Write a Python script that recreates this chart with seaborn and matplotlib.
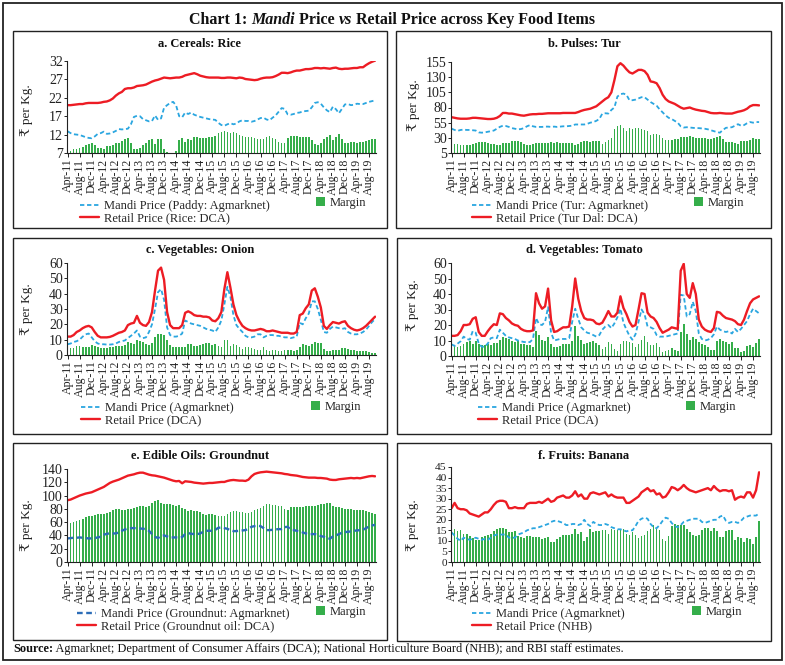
import numpy as np
import pandas as pd
import matplotlib
matplotlib.use("Agg")
import matplotlib.pyplot as plt
import seaborn as sns
from matplotlib.patches import Rectangle

W, H = 785, 665

# ---------------- data ----------------
months = list(pd.date_range("2011-04-01", periods=103, freq="MS").strftime("%b-%y"))
tick_labels = ["Apr-11", "Aug-11", "Dec-11", "Apr-12", "Aug-12", "Dec-12", "Apr-13", "Aug-13",
               "Dec-13", "Apr-14", "Aug-14", "Dec-14", "Apr-15", "Aug-15", "Dec-15", "Apr-16",
               "Aug-16", "Dec-16", "Apr-17", "Aug-17", "Dec-17", "Apr-18", "Aug-18", "Dec-18",
               "Apr-19", "Aug-19"]

rice_retail = [20.0, 20.0, 20.1, 20.2, 20.3, 20.3, 20.5, 20.6, 20.6, 20.6, 20.6, 20.7,
               20.9, 21.0, 21.3, 21.8, 22.6, 23.2, 23.6, 24.4, 24.6, 24.6, 24.8, 25.2,
               25.3, 25.4, 25.6, 26.0, 26.4, 26.7, 26.9, 27.2, 27.5, 27.4, 27.3, 27.4,
               27.5, 27.5, 27.7, 28.1, 28.3, 28.5, 28.7, 28.4, 28.0, 27.8, 27.6, 27.5,
               27.5, 27.5, 27.5, 27.4, 27.4, 27.5, 27.5, 27.4, 27.3, 27.5, 27.4, 27.1,
               27.0, 26.9, 26.8, 26.9, 27.2, 27.4, 27.5, 27.5, 27.6, 27.9, 28.3, 28.8,
               28.8, 28.7, 28.9, 29.2, 29.4, 29.4, 29.6, 29.8, 29.8, 29.9, 30.1, 30.1,
               30.0, 30.1, 30.0, 29.9, 30.1, 30.2, 29.9, 29.8, 29.9, 29.9, 30.0, 30.1,
               30.1, 30.3, 30.3, 30.9, 31.4, 31.8, 32.1]
rice_mandi = [12.9, 12.4, 12.1, 12.0, 11.9, 11.6, 11.3, 11.1, 11.0, 11.5, 12.2, 12.4,
              12.8, 12.2, 12.3, 12.6, 13.0, 13.5, 13.4, 13.5, 13.6, 14.8, 16.8, 17.1,
              17.0, 16.2, 15.9, 15.6, 15.7, 17.2, 16.0, 16.4, 19.3, 20.0, 20.6, 20.9,
              19.9, 17.0, 16.7, 18.0, 17.6, 18.0, 17.4, 17.1, 16.8, 16.6, 16.4, 16.2,
              16.1, 16.0, 15.2, 14.6, 14.4, 14.8, 15.1, 14.8, 15.0, 15.6, 15.9, 15.7,
              15.7, 15.5, 15.7, 16.1, 16.5, 16.6, 16.1, 15.9, 16.6, 17.2, 18.2, 19.2,
              19.0, 17.5, 17.4, 17.6, 17.9, 18.0, 18.3, 18.4, 18.5, 19.4, 20.6, 20.8,
              20.4, 19.4, 18.6, 18.1, 19.6, 18.9, 17.8, 19.0, 20.2, 20.3, 20.0, 20.1,
              20.4, 20.3, 20.3, 20.6, 20.9, 21.1, 21.3]

tur_retail = [64, 63, 62, 61.5, 61.5, 61.5, 62, 63, 63, 62.5, 62, 61.5,
              61, 61, 61.5, 63, 66, 71, 71, 70, 70, 69, 68, 67,
              66.5, 67.5, 68.5, 69, 69, 69.5, 69.5, 70, 70.5, 70.5, 70.5, 70.5,
              70.5, 71, 71, 71, 71, 71, 72.5, 74.5, 76, 77, 78, 80,
              82, 86, 90, 94, 97, 105, 125, 148, 153, 149, 143, 138,
              136, 139, 142, 142, 140, 134, 123, 122, 120, 112, 101, 94,
              90, 88, 86, 83, 80, 78, 79, 80, 78, 76.5, 75.5, 74.5,
              74, 72.5, 71, 70.5, 70.5, 71, 70.5, 70, 70, 70, 71.5, 73,
              74, 75.5, 78, 82, 84, 84, 83.5]
tur_mandi = [45, 43, 41.5, 43, 43.5, 43, 43, 42.5, 42, 39, 38.5, 39,
             40, 41, 42, 45, 48, 50, 49.5, 48, 46, 45, 44, 44.5,
             46, 49, 51, 49, 48, 48, 48, 48.5, 48.5, 48, 48.5, 48,
             48.5, 49, 49, 49.5, 50, 52, 52, 52, 52, 53, 55, 56,
             58, 61, 70, 70.5, 70, 76, 80, 98, 102, 103, 101, 92,
             92, 93, 95, 97, 97, 93, 89, 86, 83, 77, 72, 67,
             63, 61, 58, 55, 49, 47, 47.5, 47, 46.5, 46, 46, 45.5,
             45, 44, 42.5, 41, 39.5, 38.5, 43, 46.5, 47, 47.5, 50, 52.5,
             50, 51, 54, 56, 55, 56, 56]

onion_retail = [12, 12, 13, 15, 16, 17.5, 18.5, 19, 18, 15, 12.5, 11.5,
                11.5, 11.5, 11.8, 12.5, 13.5, 14.5, 15, 16, 19.5, 20.5, 21, 25.5,
                21, 19.5, 19, 21.5, 28, 42, 55, 57, 49, 28, 19.5, 17.5,
                17.5, 17.5, 19.5, 27.5, 28.5, 27.5, 26, 25.5, 25.5, 25, 25, 24.5,
                22.5, 22, 24, 28, 43, 54, 44, 33, 26, 22, 19, 17.5,
                16.5, 16, 16, 16.5, 17, 16.5, 15.5, 15.5, 16, 15.5, 15, 14.5,
                14.5, 14.5, 14, 14, 15, 26, 27, 30.5, 33, 42, 43.5, 38,
                31, 19, 17, 19.5, 21.5, 21, 20.5, 21.5, 22, 19, 17.5, 16.5,
                16, 16.5, 17.5, 19, 21, 23, 25]
onion_mandi = [7, 7.5, 8.5, 9, 10, 12, 13.5, 14, 11.5, 9, 7.5, 7,
               7, 6.8, 6.8, 7, 7.5, 8.5, 9, 9.5, 11, 12.5, 14, 16,
               12, 11, 11.5, 15, 20, 30, 41, 43, 36, 18, 13, 12,
               12, 12.5, 14, 22.5, 21.5, 20.5, 20, 19.5, 19, 18, 17, 16.5,
               16, 15, 18, 22.5, 33, 44.5, 38, 26, 19.5, 17, 15, 12.5,
               11.5, 11.5, 12, 13.5, 13.5, 11.5, 12.5, 13, 13, 12.5, 12.5, 12,
               11.5, 11.5, 11, 11.5, 12, 21, 20, 24, 27, 35, 35, 30,
               23, 15, 14.5, 17, 18.5, 18, 17.5, 17, 17.5, 15, 14, 13.5,
               13.5, 14, 15, 16.5, 19, 21.5, 23.5]

tomato_retail = [13, 13, 13.5, 16, 20, 20, 20.5, 24, 25, 15.5, 13, 13,
                 16, 18.5, 20.5, 20, 27.5, 27, 24.5, 23, 21, 20, 19.5, 17.5,
                 16.5, 16, 16, 16.5, 40.5, 34, 30.5, 32, 43.5, 23, 15.5, 16,
                 17.3, 18.5, 18.5, 19, 32, 50, 37, 29, 24.5, 23.5, 23.5, 23,
                 21, 20.5, 21.5, 25, 29, 25.5, 25.5, 28, 38.5, 31, 27, 22,
                 19, 20, 30, 40.5, 40, 28, 25.5, 24.5, 22, 18, 15, 16,
                 17, 18.5, 18, 17.5, 55, 59.5, 40, 37.5, 47, 40, 23.5, 19,
                 17, 16, 15.5, 18, 28.5, 28, 26, 24.5, 24, 23.5, 22.5, 20.5,
                 20, 23.5, 29, 34, 36.5, 37.5, 38.5]
tomato_mandi = [7.5, 6.5, 8, 9.5, 12.5, 11, 10.5, 16, 15, 8, 6, 6,
                8, 11.5, 12, 11.5, 17, 15, 13, 12, 11.5, 11, 10, 9.5,
                9, 9, 9, 11, 24.5, 20.5, 20, 22, 31.5, 15, 10, 10.5,
                11, 11, 11, 11.5, 22, 30.5, 24, 18.5, 16.5, 15, 14.5, 13.5,
                12.5, 13.5, 17, 19, 20, 18, 21, 25, 30.5, 21.5, 17, 13,
                10.5, 14, 22, 30, 27, 19, 18.5, 17.5, 13.5, 12.5, 12.5, 12.5,
                13, 13.5, 14, 14.5, 39.5, 39, 25.5, 27, 35, 29, 14.5, 11,
                10, 10.5, 11.5, 14, 19, 17, 16, 15.5, 16, 14.5, 17.5, 15.5,
                17.5, 20, 22.5, 27, 30.5, 29, 27.5]

groundnut_retail = [93, 94, 96, 98, 100, 101.5, 103, 104, 105, 107, 109, 111,
                    113, 116, 119, 121, 122.5, 124, 126, 128, 130, 131, 132, 133.5,
                    134.5, 134.5, 133, 131.5, 130.5, 130, 129, 128, 127, 125.5, 124, 122.5,
                    121.5, 122, 118.5, 121.5, 121, 120.5, 119.5, 119, 118.5, 118, 118.5, 119,
                    119, 119.5, 120, 120.5, 120.5, 122, 123, 123.5, 123, 122.5, 122.5, 122,
                    124, 129, 132.5, 134, 135, 135.5, 136, 135.5, 135, 134.5, 134, 133.5,
                    132.5, 132, 131, 130.5, 130, 129, 128, 127.5, 127, 127, 127, 126.5,
                    126.5, 126, 125.5, 124, 123.5, 123.5, 124.5, 125, 125.5, 126, 126.5, 126,
                    126.5, 126, 127, 128, 129, 129.5, 129]
groundnut_mandi = [35.5, 36, 36.5, 36.5, 37, 36.5, 36, 35.5, 35.5, 36, 37, 38,
                   41, 42.5, 43, 43, 43, 44.5, 47, 49, 50.5, 51, 51, 51,
                   50.5, 50, 49.5, 47, 42, 38, 36, 39.5, 40, 38.5, 37, 37,
                   37, 36.5, 37.5, 42, 43.5, 42.5, 42, 42, 43, 45.5, 47, 47,
                   47, 48.5, 51.5, 52, 51, 50, 47.5, 46.5, 46.5, 47, 47.5, 48,
                   50, 53, 54, 54.5, 54, 51, 48, 48, 48.5, 49, 49.5, 49.5,
                   52.5, 53, 48.5, 48, 47, 46, 44.5, 43, 42, 42, 42, 41,
                   39, 38, 36.5, 35, 38.5, 40, 42, 44, 45, 45.5, 46, 47,
                   47.5, 48, 48.5, 51, 53.5, 55, 56]

banana_retail = [25.5, 28, 25.5, 25, 25, 24.5, 23, 22.5, 22, 21.5, 22.5, 23.5,
                 23.5, 25, 27, 28.5, 29, 29, 28.5, 25.5, 25.5, 26, 25.5, 25.5,
                 25.5, 27.5, 28, 28, 28, 28.5, 28, 29, 30, 28.5, 29, 30.5,
                 31, 31.5, 30.5, 30.5, 31.5, 33.5, 31, 32, 30, 30, 32.5, 33,
                 32.5, 32, 32.5, 33, 31, 32, 31, 30.5, 30.5, 30.5, 28, 28,
                 29, 30, 31, 33, 34, 35, 33.5, 34, 32, 32.5, 30.5, 31,
                 33, 35.5, 35, 34, 35, 36.5, 35, 34, 33.5, 33, 33.5, 34,
                 34.5, 35, 34, 36, 34.5, 33.5, 34, 34, 33.5, 34, 29.5, 30.5,
                 31, 30.5, 33, 33, 30.5, 34, 42.5]
banana_mandi = [14, 12.5, 11, 10, 11.5, 11, 10.5, 11, 11.5, 11, 10.5, 11,
                10.5, 11.5, 12.5, 13, 13, 13, 13, 11.5, 11.5, 11.5, 13, 13.5,
                14, 15, 15.5, 16, 16, 16.5, 17, 17.5, 18, 19, 19.5, 19.5,
                19, 18.5, 17.5, 17.5, 18, 18, 17.5, 18, 20, 18, 17, 19,
                18, 17.5, 17.5, 18, 17.5, 16.5, 16, 15.5, 15.5, 15, 14.5, 15,
                15, 17, 19.5, 20.5, 21, 20.5, 18, 16.5, 16, 17.5, 19.5, 21,
                20.5, 18.5, 17, 16.5, 17.5, 19, 19.5, 20, 20.5, 20.5, 20.5, 19,
                18.5, 19, 19.5, 20, 20, 21.5, 22, 19.5, 18.5, 19, 19, 18.5,
                19.5, 21, 21.5, 22, 22, 22, 23]

# ---------------- style ----------------
RED = "#ED1C24"
BLUE = "#2AA6E0"
BLUE_DARK = "#2C6DB8"
GREEN = "#35AE4A"
SERIF = ["Liberation Serif", "DejaVu Serif", "DejaVu Sans"]

sns.set_theme(style="white")
plt.rcParams["font.family"] = SERIF
plt.rcParams["axes.linewidth"] = 0.8

panels = [
    dict(title="a. Cereals: Rice", mandi=rice_mandi, retail=rice_retail,
         mlab="Mandi Price (Paddy: Agmarknet)", rlab="Retail Price (Rice: DCA)",
         yticks=[7, 12, 17, 22, 27, 32], blue=BLUE, ysize=10),
    dict(title="b. Pulses: Tur", mandi=tur_mandi, retail=tur_retail,
         mlab="Mandi Price (Tur: Agmarknet)", rlab="Retail Price (Tur Dal: DCA)",
         yticks=[5, 30, 55, 80, 105, 130, 155], blue=BLUE, ysize=10),
    dict(title="c. Vegetables: Onion", mandi=onion_mandi, retail=onion_retail,
         mlab="Mandi Price (Agmarknet)", rlab="Retail Price (DCA)",
         yticks=[0, 10, 20, 30, 40, 50, 60], blue=BLUE, ysize=10),
    dict(title="d. Vegetables: Tomato", mandi=tomato_mandi, retail=tomato_retail,
         mlab="Mandi Price (Agmarknet)", rlab="Retail Price (DCA)",
         yticks=[0, 10, 20, 30, 40, 50, 60], blue=BLUE, ysize=10),
    dict(title="e. Edible Oils: Groundnut", mandi=groundnut_mandi, retail=groundnut_retail,
         mlab="Mandi Price (Groundnut: Agmarknet)", rlab="Retail Price (Groundnut oil: DCA)",
         yticks=[0, 20, 40, 60, 80, 100, 120, 140], blue=BLUE_DARK, ysize=10),
    dict(title="f. Fruits: Banana", mandi=banana_mandi, retail=banana_retail,
         mlab="Mandi Price (Agmarknet)", rlab="Retail Price (NHB)",
         yticks=[0, 5, 10, 15, 20, 25, 30, 35, 40, 45], blue=BLUE, ysize=8.2),
]

# layout in pixels (left, top, right, bottom)
layout = [
    dict(box=(13, 31, 387, 228), ax=(67, 61, 376, 153), title=(200, 44), ylab=(27, 110),
         leg=(80, 200), mleg=(316, 197)),
    dict(box=(396, 31, 771, 228), ax=(451, 62, 760, 153), title=(584, 44), ylab=(414, 105),
         leg=(472, 200), mleg=(694, 197)),
    dict(box=(13, 238, 387, 434), ax=(67, 263, 376, 355), title=(200, 250), ylab=(27, 309),
         leg=(81, 402), mleg=(311, 401)),
    dict(box=(397, 238, 771, 434), ax=(451, 263, 760, 356), title=(584, 250), ylab=(413, 305),
         leg=(478, 402), mleg=(686, 401)),
    dict(box=(13, 443, 387, 640), ax=(67, 469, 376, 562), title=(200, 456), ylab=(27, 525),
         leg=(77, 608), mleg=(316, 606)),
    dict(box=(397, 443, 771, 641), ax=(451, 467, 760, 562), title=(584, 456), ylab=(413, 525),
         leg=(472, 608), mleg=(692, 606)),
]


def fx(x):
    return x / W


def fy(y):
    return 1 - y / H


fig = plt.figure(figsize=(W / 100, H / 100), dpi=100)
fig.patch.set_facecolor("white")

# outer frame
fig.add_artist(Rectangle((fx(3), fy(660)), fx(782) - fx(3), fy(3) - fy(660),
                         transform=fig.transFigure, fill=False, lw=1.3, ec="#222222"))

tick_pos = [months.index(t) for t in tick_labels]

for p, lay in zip(panels, layout):
    x0, y0, x1, y1 = lay["box"]
    fig.add_artist(Rectangle((fx(x0), fy(y1)), fx(x1) - fx(x0), fy(y0) - fy(y1),
                             transform=fig.transFigure, fill=False, lw=1.0, ec="#222222"))
    l, t, r, b = lay["ax"]
    ax = fig.add_axes([fx(l), fy(b), fx(r) - fx(l), fy(t) - fy(b)])
    ax.set_facecolor("none")
    df = pd.DataFrame({"idx": np.arange(len(months)), "month": months,
                       "Mandi": p["mandi"], "Retail": p["retail"]})
    df["Margin"] = df["Retail"] - df["Mandi"]
    sns.barplot(data=df, x="idx", y="Margin", native_scale=True, color=GREEN,
                saturation=1, width=0.55, errorbar=None, linewidth=0, ax=ax)
    sns.lineplot(data=df, x="idx", y="Mandi", color=p["blue"],
                 linewidth=1.3 if p["blue"] == BLUE else 1.7,
                 linestyle=(0, (2.4, 1.5)), ax=ax)
    sns.lineplot(data=df, x="idx", y="Retail", color=RED, linewidth=1.7, ax=ax)
    if ax.get_legend() is not None:
        ax.get_legend().remove()
    ax.set_xlim(-0.2, 102.3)
    ax.set_ylim(p["yticks"][0], p["yticks"][-1])
    ax.set_yticks(p["yticks"])
    ax.set_xticks(tick_pos)
    ax.set_xticklabels(tick_labels, rotation=90)
    ax.set_xlabel("")
    ax.set_ylabel("")
    sns.despine(ax=ax)
    for s in ("left", "bottom"):
        ax.spines[s].set_color("#222222")
        ax.spines[s].set_linewidth(0.8)
    ax.tick_params(axis="x", bottom=True, length=3, width=0.7, direction="out",
                   labelsize=8.6, pad=1, colors="#222222")
    ax.tick_params(axis="y", left=True, length=2, width=0.7, direction="out",
                   labelsize=p["ysize"], pad=1, colors="#222222")

    fig.text(fx(lay["title"][0]), fy(lay["title"][1]), p["title"], ha="center", va="center",
             fontsize=9, fontweight="bold", color="#111111")
    fig.text(fx(lay["ylab"][0]), fy(lay["ylab"][1]), "₹ per Kg.", rotation=90,
             ha="center", va="center", fontsize=9.5, color="#222222", family=SERIF)

    mandi_line, retail_line = ax.lines[0], ax.lines[1]
    fig.legend(handles=[mandi_line, retail_line], labels=[p["mlab"], p["rlab"]],
               loc="upper left", bbox_to_anchor=(fx(lay["leg"][0]), fy(lay["leg"][1])),
               frameon=False, fontsize=9, handlelength=1.55, handletextpad=0.4,
               labelspacing=0.0, borderpad=0, borderaxespad=0)
    fig.legend(handles=[ax.patches[0]], labels=["Margin"],
               loc="upper left", bbox_to_anchor=(fx(lay["mleg"][0]), fy(lay["mleg"][1])),
               frameon=False, fontsize=9, handlelength=0.7, handleheight=0.7,
               handletextpad=0.4, borderpad=0, borderaxespad=0)

fig.canvas.draw()
renderer = fig.canvas.get_renderer()


def rich_text(xc, y, runs, center=True, size=10):
    texts, widths = [], []
    for s, kw in runs:
        t = fig.text(0, y, s, va="center", fontsize=size, color="#111111", **kw)
        widths.append(t.get_window_extent(renderer).width)
        texts.append(t)
    total = sum(widths)
    start = xc - total / 2 if center else xc
    cur = start
    for t, w in zip(texts, widths):
        t.set_x(cur / W)
        cur += w


rich_text(392, fy(20), [("Chart 1: ", dict(fontweight="bold")),
                        ("Mandi", dict(fontweight="bold", style="italic")),
                        (" Price ", dict(fontweight="bold")),
                        ("vs", dict(fontweight="bold", style="italic")),
                        (" Retail Price across Key Food Items", dict(fontweight="bold"))],
          size=11.5)
rich_text(13, fy(649), [("Source:", dict(fontweight="bold")),
                        (" Agmarknet; Department of Consumer Affairs (DCA); National Horticulture "
                         "Board (NHB); and RBI staff estimates.", dict())],
          center=False, size=8.85)

fig.savefig("out.png", dpi=100, facecolor="white")
